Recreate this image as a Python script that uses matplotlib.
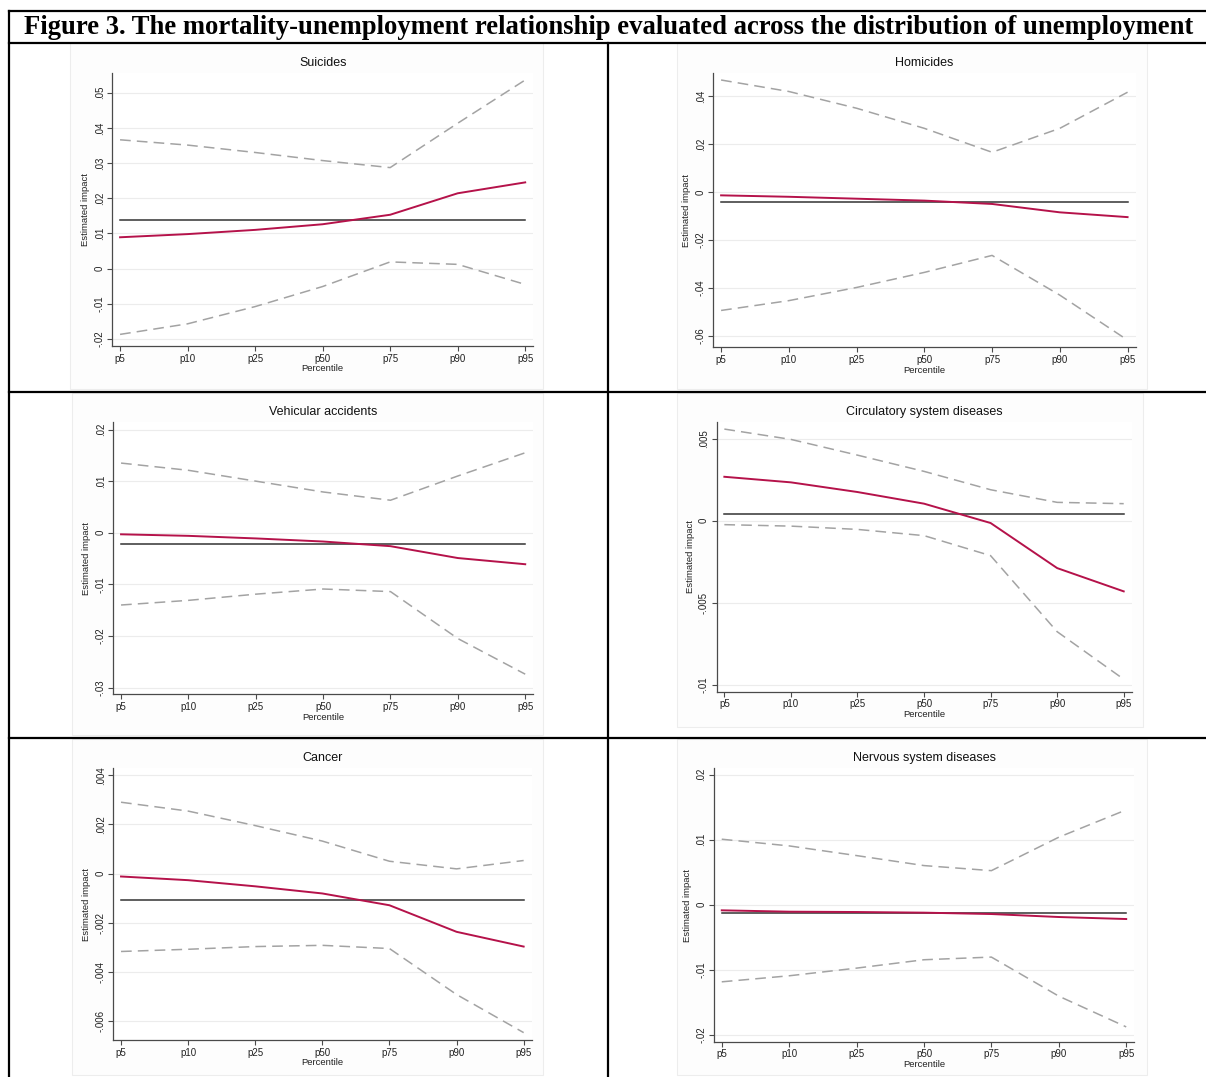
import matplotlib
matplotlib.use('Agg')
import matplotlib.pyplot as plt
from matplotlib.lines import Line2D
from matplotlib.patches import Rectangle

W, H = 1206, 1077

percentiles = ['p5', 'p10', 'p25', 'p50', 'p75', 'p90', 'p95']

# Suicides
suicides_est = [0.0089, 0.0098, 0.0110, 0.0126, 0.0153, 0.0214, 0.0245]
suicides_hi = [0.0366, 0.0351, 0.0330, 0.0307, 0.0287, 0.0413, 0.0536]
suicides_lo = [-0.0187, -0.0157, -0.0108, -0.0051, 0.0019, 0.0012, -0.0045]
suicides_avg = 0.0138
suicides_ticks = [-0.02, -0.01, 0, 0.01, 0.02, 0.03, 0.04, 0.05]

# Homicides
homicides_est = [-0.0014, -0.0020, -0.0028, -0.0036, -0.0050, -0.0085, -0.0105]
homicides_hi = [0.0468, 0.0420, 0.0350, 0.0266, 0.0166, 0.0266, 0.0417]
homicides_lo = [-0.0495, -0.0454, -0.0399, -0.0336, -0.0265, -0.0431, -0.0619]
homicides_avg = -0.0043
homicides_ticks = [-0.06, -0.04, -0.02, 0, 0.02, 0.04]

# Vehicular accidents
vehicular_est = [-0.0003, -0.0006, -0.0011, -0.0017, -0.0026, -0.0049, -0.0061]
vehicular_hi = [0.0135, 0.0121, 0.0100, 0.0079, 0.0063, 0.0110, 0.0155]
vehicular_lo = [-0.0140, -0.0131, -0.0119, -0.0109, -0.0114, -0.0205, -0.0274]
vehicular_avg = -0.0021
vehicular_ticks = [-0.03, -0.02, -0.01, 0, 0.01, 0.02]

# Circulatory system diseases
circulatory_est = [0.00268, 0.00234, 0.00175, 0.00104, -0.00014, -0.00289, -0.00431]
circulatory_hi = [0.00559, 0.00496, 0.00400, 0.00301, 0.00189, 0.00112, 0.00104]
circulatory_lo = [-0.00024, -0.00033, -0.00053, -0.00091, -0.00213, -0.00677, -0.00967]
circulatory_avg = 0.00043
circulatory_ticks = [-0.01, -0.005, 0, 0.005]

# Cancer
cancer_est = [-0.00012, -0.00027, -0.00052, -0.00081, -0.00129, -0.00237, -0.00297]
cancer_hi = [0.00290, 0.00254, 0.00195, 0.00132, 0.00050, 0.00019, 0.00053]
cancer_lo = [-0.00317, -0.00308, -0.00297, -0.00292, -0.00305, -0.00492, -0.00647]
cancer_avg = -0.00106
cancer_ticks = [-0.006, -0.004, -0.002, 0, 0.002, 0.004]

# Nervous system diseases
nervous_est = [-0.00087, -0.00108, -0.00113, -0.00123, -0.00144, -0.00190, -0.00221]
nervous_hi = [0.01008, 0.00905, 0.00756, 0.00602, 0.00524, 0.01039, 0.01460]
nervous_lo = [-0.01188, -0.01095, -0.00977, -0.00848, -0.00807, -0.01409, -0.01882]
nervous_avg = -0.00134
nervous_ticks = [-0.02, -0.01, 0, 0.01, 0.02]

# panel: title, data, axes box in pixels (left, top, right, bottom), ylim, frame box
panels = [
    ('Suicides', suicides_est, suicides_lo, suicides_hi, suicides_avg, suicides_ticks,
     (112.3, 73.3, 533.3, 346.0), (-0.0220, 0.0555), (70, 43, 543, 389)),
    ('Homicides', homicides_est, homicides_lo, homicides_hi, homicides_avg, homicides_ticks,
     (713.3, 73.3, 1135.7, 347.3), (-0.0649, 0.0496), (677, 43, 1147, 389)),
    ('Vehicular accidents', vehicular_est, vehicular_lo, vehicular_hi, vehicular_avg, vehicular_ticks,
     (113.3, 422.3, 533.3, 694.3), (-0.0313, 0.0214), (72, 393, 543, 735)),
    ('Circulatory system diseases', circulatory_est, circulatory_lo, circulatory_hi, circulatory_avg,
     circulatory_ticks, (716.7, 421.7, 1131.7, 691.7), (-0.01043, 0.00604), (677, 393, 1143, 727)),
    ('Cancer', cancer_est, cancer_lo, cancer_hi, cancer_avg, cancer_ticks,
     (113.3, 768.3, 531.7, 1040.0), (-0.00677, 0.00428), (72, 739, 543, 1075)),
    ('Nervous system diseases', nervous_est, nervous_lo, nervous_hi, nervous_avg, nervous_ticks,
     (714.0, 768.3, 1134.3, 1041.7), (-0.0211, 0.0210), (677, 739, 1147, 1075)),
]

RED = '#b5124a'
GREY = '#a3a3a3'
AXC = '#4a4a4a'


def stata_fmt(v):
    if v == 0:
        return '0'
    return ('%g' % v).replace('0.', '.', 1)


def fx(x):
    return x / W


def fy(y):
    return 1 - y / H


plt.rcParams['font.family'] = ['Liberation Sans', 'DejaVu Sans']
fig = plt.figure(figsize=(W / 100, H / 100), dpi=100)

# faint frames of the embedded graph images
for p in panels:
    l, t, r, b = p[8]
    fig.add_artist(Rectangle((fx(l), fy(b)), fx(r - l), (b - t) / H,
                             transform=fig.transFigure, facecolor='#fdfdfd',
                             edgecolor='#ededed', lw=0.8, zorder=0))

x = list(range(len(percentiles)))
for title, est, lo, hi, avg, ticks, box, ylim, frame in panels:
    l, t, r, b = box
    ax = fig.add_axes([fx(l), fy(b), fx(r - l), (b - t) / H])
    ax.set_facecolor('white')
    ax.set_xlim(-0.115, 6.12)
    ax.set_ylim(*ylim)
    for tk in ticks:
        ax.axhline(tk, color='#ececec', lw=0.8, zorder=0)
    ax.plot(x, hi, color=GREY, lw=1.1, dashes=(7, 4))
    ax.plot(x, lo, color=GREY, lw=1.1, dashes=(7, 4))
    ax.plot([x[0], x[-1]], [avg, avg], color='#333333', lw=1.1)
    ax.plot(x, est, color=RED, lw=1.4)

    ax.set_xticks(x)
    ax.set_xticklabels(percentiles)
    ax.set_yticks(ticks)
    ax.set_yticklabels([stata_fmt(v) for v in ticks], rotation=90, va='center')
    ax.tick_params(axis='both', direction='out', length=3.5, width=0.8, color=AXC,
                   labelsize=7, labelcolor='#222222', pad=2)
    for s in ['top', 'right']:
        ax.spines[s].set_visible(False)
    for s in ['left', 'bottom']:
        ax.spines[s].set_color(AXC)
        ax.spines[s].set_linewidth(0.9)
    ax.set_xlabel('Percentile', fontsize=6.8, labelpad=0.5, color='#222222')
    ax.set_ylabel('Estimated impact', fontsize=6.8, labelpad=3, color='#222222')
    ax.set_title(title, fontsize=9, pad=5, color='#111111')

# table borders
lw_b = 1.6
border_lines = [
    ((9, 1206), (10.5, 10.5)),
    ((9, 1206), (42.5, 42.5)),
    ((9, 1206), (391.5, 391.5)),
    ((9, 1206), (737.5, 737.5)),
    ((9, 9), (10.5, 1077)),
    ((607.5, 607.5), (42.5, 1077)),
]
for xs, ys in border_lines:
    fig.add_artist(Line2D([fx(v) for v in xs], [fy(v) for v in ys],
                          transform=fig.transFigure, color='black', lw=lw_b))

fig.text(fx(609), fy(27), 'Figure 3. The mortality-unemployment relationship evaluated '
         'across the distribution of unemployment',
         family=['Liberation Serif', 'DejaVu Serif'], fontweight='bold',
         fontsize=19.2, ha='center', va='center')

fig.savefig('out.png', dpi=100)
